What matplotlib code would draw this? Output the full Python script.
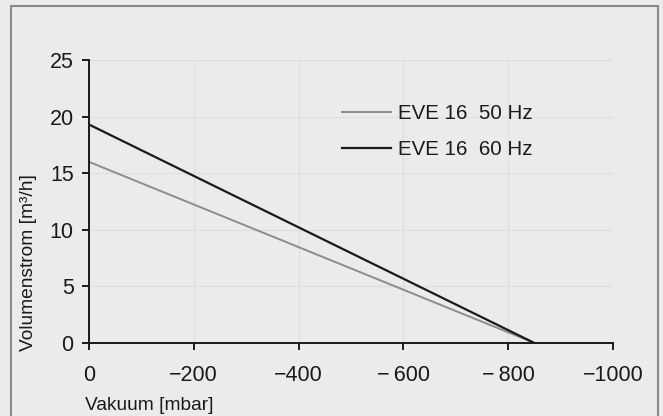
import matplotlib
matplotlib.use("Agg")
import matplotlib.pyplot as plt
from matplotlib.patches import Rectangle

# Daten
vakuum = [0, -850]
strom_50hz = [16.0, 0.0]
strom_60hz = [19.3, 0.0]
labels = ["EVE 16  50 Hz", "EVE 16  60 Hz"]

x_ticks = [0, -200, -400, -600, -800, -1000]
x_ticklabels = ["0", "\u2212200", "\u2212400", "\u2212\u2009600", "\u2212\u2009800", "\u22121000"]
y_ticks = [0, 5, 10, 15, 20, 25]

BG = "#ebebeb"
plt.rcParams['font.family'] = ['Liberation Sans', 'DejaVu Sans']

fig = plt.figure(figsize=(6.63, 4.16), dpi=100, facecolor=BG)
ax = fig.add_axes([89 / 663, 1 - 343 / 416, 524 / 663, 283 / 416])
ax.set_facecolor(BG)

# Rahmen um die Grafik
fig.patches.append(Rectangle((11 / 663, -0.05), 647 / 663, 1.05 - 6 / 416,
                             transform=fig.transFigure, fill=False,
                             edgecolor="#8a8a8a", linewidth=1.5))

ax.plot(vakuum, strom_50hz, color="#8c8c8c", linewidth=1.4, label=labels[0])
ax.plot(vakuum, strom_60hz, color="#1a1a1a", linewidth=1.6, label=labels[1])

ax.set_xlim(0, -1000)
ax.set_ylim(0, 25)
ax.set_xticks(x_ticks)
ax.set_xticklabels(x_ticklabels)
ax.set_yticks(y_ticks)

ax.grid(True, color="#dedede", linewidth=0.9)
ax.set_axisbelow(True)
for s in ["top", "right"]:
    ax.spines[s].set_visible(False)
for s in ["left", "bottom"]:
    ax.spines[s].set_color("#1a1a1a")
    ax.spines[s].set_linewidth(1.4)

ax.tick_params(axis="x", direction="out", length=5, width=1.4, pad=11,
               labelsize=15.5, colors="#1a1a1a")
ax.tick_params(axis="y", direction="out", length=5, width=1.4, pad=6,
               labelsize=15.5, colors="#1a1a1a")

fig.text(85 / 663, 1 - 405 / 416, "Vakuum [mbar]", fontsize=13.8,
         ha="left", va="center", color="#1a1a1a")
fig.text(29 / 663, 1 - 351 / 416, "Volumenstrom [m\u00b3/h]",
         fontsize=13.8, rotation=90, ha="center", va="bottom", color="#1a1a1a")

ax.legend(loc="upper left", bbox_to_anchor=(332 / 663, 1 - 94 / 416),
          bbox_transform=fig.transFigure, frameon=False, fontsize=14.8,
          borderpad=0, handlelength=2.35, handletextpad=0.35, labelspacing=0.8,
          labelcolor="#1a1a1a")

fig.savefig("out.png", dpi=100, facecolor=BG)
